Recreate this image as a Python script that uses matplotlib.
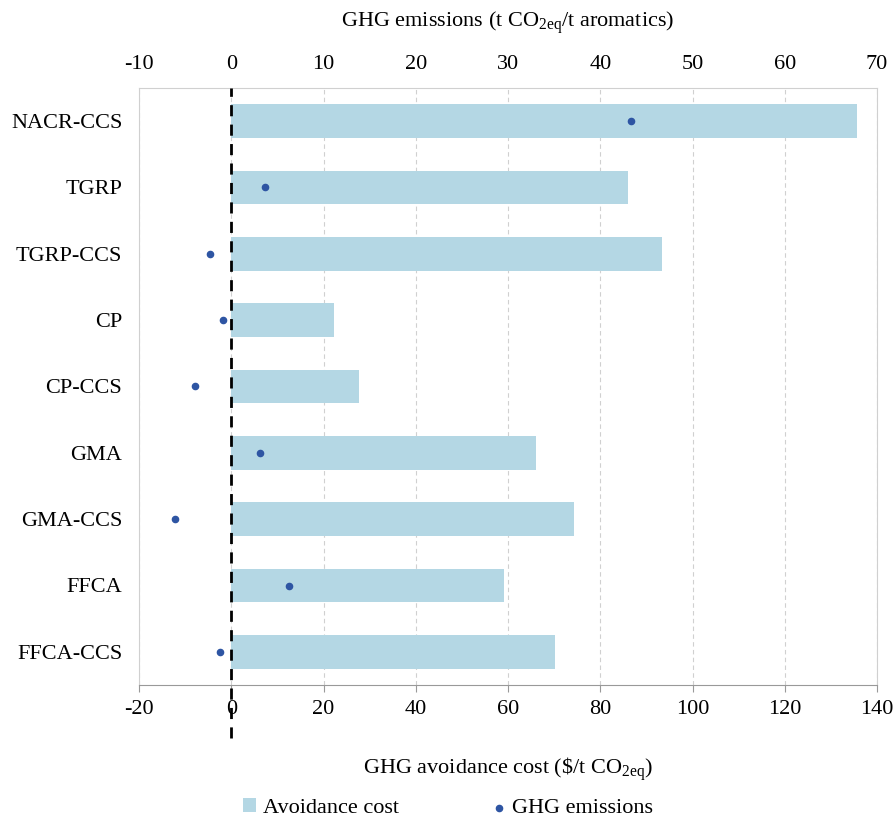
import matplotlib
matplotlib.use("Agg")
import matplotlib.pyplot as plt
import numpy as np

plt.rcParams['font.family'] = ['Liberation Serif', 'DejaVu Serif']
plt.rcParams['mathtext.fontset'] = 'custom'
plt.rcParams['mathtext.rm'] = 'Liberation Serif'
plt.rcParams['mathtext.it'] = 'Liberation Serif:italic'
plt.rcParams['axes.unicode_minus'] = False

# pathways, top to bottom
routes = ['NACR-CCS', 'TGRP', 'TGRP-CCS', 'CP', 'CP-CCS',
          'GMA', 'GMA-CCS', 'FFCA', 'FFCA-CCS']
# GHG avoidance cost ($/t CO2eq), bottom axis
avoid_cost = [135.7, 86.1, 93.4, 22.3, 27.7, 66.1, 74.4, 59.2, 70.2]
# GHG emissions (t CO2eq / t aromatics), top axis
ghg = [43.3, 3.7, -2.3, -0.9, -3.9, 3.1, -6.1, 6.3, -1.2]

bar_col = '#b4d7e4'
dot_col = '#2e55a3'
grid_col = '#d0d0d0'
fs = 16

fig = plt.figure(figsize=(8.96, 8.18), dpi=100)
ax = fig.add_axes([139/896, 1 - 685/818, (877-139)/896, (685-88)/818])

y = np.arange(len(routes))
bars = ax.barh(y, avoid_cost, height=0.51, color=bar_col, zorder=2,
               label='Avoidance cost')
ax.set_ylim(len(routes) - 0.5, -0.5)
ax.set_yticks(y)
ax.set_yticklabels(routes, fontsize=fs)
ax.tick_params(axis='y', length=0, pad=12)

ax.set_xlim(-20, 140)
ax.set_xticks(np.arange(-20, 141, 20))
ax.tick_params(axis='x', labelsize=fs, length=5, color='#999999', pad=6)
ax.grid(axis='x', color=grid_col, linestyle=(0, (4, 3)), linewidth=0.8, zorder=0)
ax.set_xlabel('GHG avoidance cost (\\$/t CO$_{\\mathrm{2eq}}$)', fontsize=fs, labelpad=26)

for side in ['left', 'right', 'top']:
    ax.spines[side].set_color(grid_col)
ax.spines['bottom'].set_color('#999999')

# top axis for emissions
ax2 = ax.twiny()
ax2.set_xlim(-10, 70)
ax2.set_xticks(np.arange(-10, 71, 10))
ax2.tick_params(axis='x', labelsize=fs, length=0, pad=10)
dots = ax2.scatter(ghg, y, s=20, color=dot_col, zorder=4, label='GHG emissions')
ax2.set_xlabel('GHG emissions (t CO$_{\\mathrm{2eq}}$/t aromatics)', fontsize=fs, labelpad=20)
for side in ['left', 'right', 'top', 'bottom']:
    ax2.spines[side].set_visible(False)

# zero line, runs past the bottom axis
ax.axvline(0, ymin=-0.088, ymax=1, color='black', linestyle=(0, (4, 3)),
           linewidth=2, clip_on=False, zorder=5)

fig.legend(handles=[bars, dots], loc='center', bbox_to_anchor=(448/896, 1 - 808/818),
           ncol=2, frameon=False, fontsize=fs, columnspacing=4.2,
           handlelength=0.6, handleheight=0.6, handletextpad=0.3, borderpad=0)

fig.savefig('out.png', dpi=100)
